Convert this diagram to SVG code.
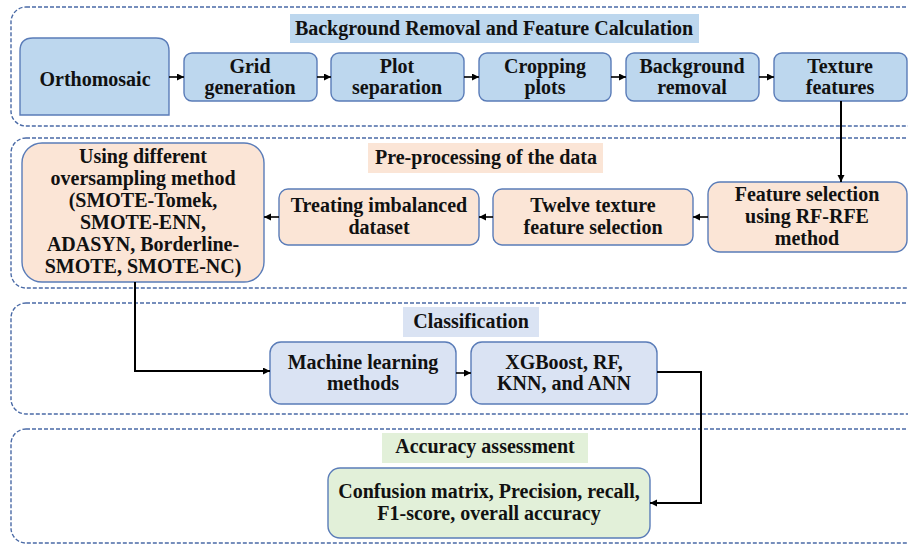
<svg xmlns="http://www.w3.org/2000/svg" width="908" height="544" viewBox="0 0 908 544">
<style>
.cont{fill:none;stroke:#4a6aa6;stroke-width:1.4;stroke-dasharray:4 2}
.box{stroke:#5a7cb8;stroke-width:1.4}
.blue{fill:#bdd7ee}
.peach{fill:#fbe5d6}
.lblue{fill:#dae3f3}
.green{fill:#e2f0d9}
text{font-family:"Liberation Serif","Times New Roman",serif;font-weight:bold;font-size:20px;fill:#111;text-anchor:middle}
.ln{fill:none;stroke:#000;stroke-width:1.6}
.lnb{fill:none;stroke:#000;stroke-width:2}
</style>
<defs>
<marker id="ah" markerUnits="userSpaceOnUse" markerWidth="8" markerHeight="8" refX="7" refY="3.5" orient="auto">
<path d="M0,0 L7,3.5 L0,7 z" fill="#000"/>
</marker>
</defs>
<g id="containers">
<rect class="cont" x="11" y="7" width="912" height="119" rx="15"/>
<rect class="cont" x="11" y="138" width="912" height="150" rx="15"/>
<rect class="cont" x="11" y="303" width="912" height="111" rx="15"/>
<rect class="cont" x="11" y="429" width="912" height="114" rx="15"/>
</g>
<g id="title1"><rect class="blue" x="290" y="14" width="409" height="29"/><text x="494" y="35">Background Removal and Feature Calculation</text></g>
<g id="title2"><rect class="peach" x="368" y="143" width="235" height="30"/><text x="486" y="164">Pre-processing of the data</text></g>
<g id="title3"><rect class="lblue" x="403" y="307" width="136" height="30"/><text x="471" y="328">Classification</text></g>
<g id="title4"><rect class="green" x="382" y="433" width="206" height="30"/><text x="485" y="453">Accuracy assessment</text></g>

<g id="orthomosaic"><path class="box blue" d="M20,115 V51 Q20,38 33,38 H156 Q169,38 169,51 V115 Z"/><text x="95" y="86">Orthomosaic</text></g>
<g id="grid"><rect class="box blue" x="184" y="53" width="133" height="48" rx="8"/><text x="250" y="73">Grid</text><text x="250" y="94">generation</text></g>
<g id="plot"><rect class="box blue" x="331" y="53" width="133" height="48" rx="8"/><text x="397" y="73">Plot</text><text x="397" y="94">separation</text></g>
<g id="crop"><rect class="box blue" x="479" y="53" width="132" height="48" rx="8"/><text x="545" y="73">Cropping</text><text x="545" y="94">plots</text></g>
<g id="bgrem"><rect class="box blue" x="626" y="53" width="133" height="48" rx="8"/><text x="692" y="73">Background</text><text x="692" y="94">removal</text></g>
<g id="texture"><rect class="box blue" x="774" y="53" width="133" height="48" rx="8"/><text x="840" y="73">Texture</text><text x="840" y="94">features</text></g>

<g id="featsel"><rect class="box peach" x="708" y="182" width="199" height="70" rx="12"/><text x="807" y="201">Feature selection</text><text x="807" y="223">using RF-RFE</text><text x="807" y="245">method</text></g>
<g id="twelve"><rect class="box peach" x="493" y="189" width="200" height="56" rx="9"/><text x="593" y="212">Twelve texture</text><text x="593" y="234">feature selection</text></g>
<g id="treating"><rect class="box peach" x="279" y="189" width="200" height="56" rx="9"/><text x="379" y="212">Treating imbalanced</text><text x="379" y="234">dataset</text></g>
<g id="oversampling"><rect class="box peach" x="22" y="143" width="242" height="139" rx="20"/>
<text x="143" y="163">Using different</text><text x="143" y="185">oversampling method</text><text x="143" y="207">(SMOTE-Tomek,</text><text x="143" y="229">SMOTE-ENN,</text><text x="143" y="251">ADASYN, Borderline-</text><text x="143" y="273">SMOTE, SMOTE-NC)</text></g>

<g id="ml"><rect class="box lblue" x="270" y="342" width="186" height="62" rx="11"/><text x="363" y="369">Machine learning</text><text x="363" y="390">methods</text></g>
<g id="xgb"><rect class="box lblue" x="471" y="342" width="186" height="62" rx="11"/><text x="564" y="369">XGBoost, RF,</text><text x="564" y="390">KNN, and ANN</text></g>

<g id="confusion"><rect class="box green" x="328" y="468" width="322" height="70" rx="12"/><text x="489" y="498">Confusion matrix, Precision, recall,</text><text x="489" y="520">F1-score, overall accuracy</text></g>

<g id="connectors">
<line class="ln" x1="169" y1="77" x2="184" y2="77" marker-end="url(#ah)"/>
<line class="ln" x1="317" y1="77" x2="331" y2="77" marker-end="url(#ah)"/>
<line class="ln" x1="464" y1="77" x2="479" y2="77" marker-end="url(#ah)"/>
<line class="ln" x1="611" y1="77" x2="626" y2="77" marker-end="url(#ah)"/>
<line class="ln" x1="759" y1="77" x2="774" y2="77" marker-end="url(#ah)"/>
<line class="lnb" x1="841" y1="101" x2="841" y2="182" marker-end="url(#ah)"/>
<line class="ln" x1="708" y1="217" x2="693" y2="217" marker-end="url(#ah)"/>
<line class="ln" x1="493" y1="217" x2="479" y2="217" marker-end="url(#ah)"/>
<line class="ln" x1="279" y1="217" x2="264" y2="217" marker-end="url(#ah)"/>
<path class="lnb" d="M135,282 V371 H270" marker-end="url(#ah)"/>
<line class="ln" x1="456" y1="373" x2="471" y2="373" marker-end="url(#ah)"/>
<path class="lnb" d="M657,372 H701 V503 H650" marker-end="url(#ah)"/>
</g>
</svg>
